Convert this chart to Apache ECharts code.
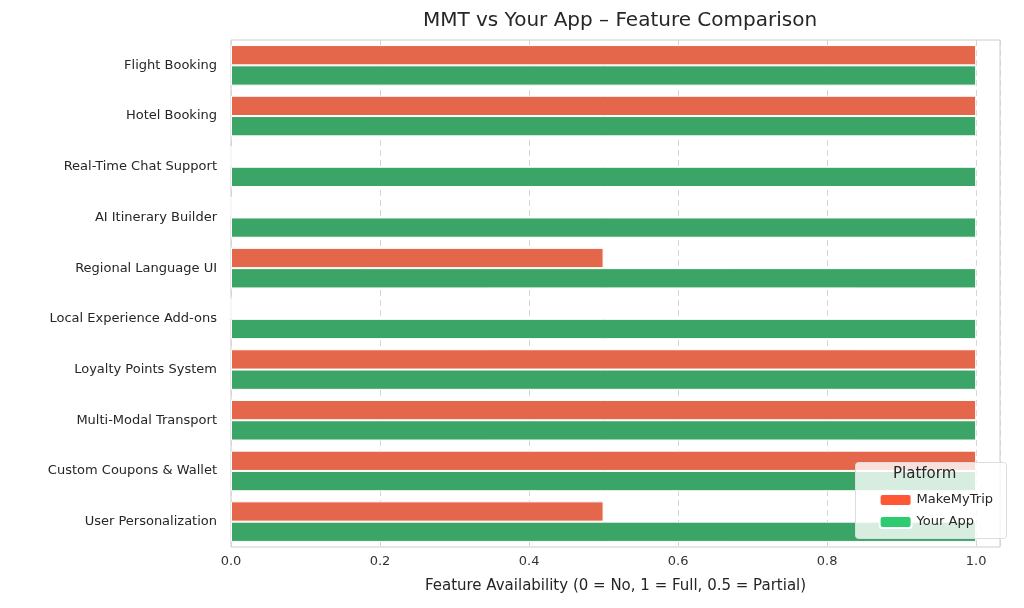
<!DOCTYPE html>
<html style="height: 100%">
<head>
 <meta charset="utf-8">
 <title>MMT vs Your App</title>
 <script src="https://cdn.jsdelivr.net/npm/echarts@6/dist/echarts.min.js"></script>
</head>
<body style="height: 100%; margin: 0; background: #fff">
 <div id="container" style="width: 1024px; height: 608px"></div>
 <script type="text/javascript">
    var features = ['Flight Booking', 'Hotel Booking', 'Real-Time Chat Support', 'AI Itinerary Builder',
        'Regional Language UI', 'Local Experience Add-ons', 'Loyalty Points System',
        'Multi-Modal Transport', 'Custom Coupons & Wallet', 'User Personalization'];
    var mmtValues = [1, 1, 0, 0, 0.5, 0, 1, 1, 1, 0.5];
    var appValues = [1, 1, 1, 1, 1, 1, 1, 1, 1, 1];
    var xTicks = [0, 0.2, 0.4, 0.6, 0.8, 1.0];

    var font = 'DejaVu Sans';
    var myChart = echarts.init(document.getElementById('container'));
    myChart.setOption({
        animation: false,
        backgroundColor: '#fff',
        textStyle: { fontFamily: font },
        title: {
            text: 'MMT vs Your App \u2013 Feature Comparison',
            left: 615, top: 6, textAlign: 'center',
            textStyle: { fontSize: 20, fontWeight: 'normal', color: '#262626', fontFamily: font }
        },
        grid: { left: 231, right: 24, top: 40, bottom: 61, show: true, borderColor: '#cccccc', borderWidth: 1 },
        xAxis: {
            type: 'value', min: 0, max: 1.032, interval: 0.2,
            name: 'Feature Availability (0 = No, 1 = Full, 0.5 = Partial)',
            nameLocation: 'middle', nameGap: 32,
            nameTextStyle: { fontSize: 15, color: '#262626', fontFamily: font },
            axisLine: { show: false }, axisTick: { show: false },
            axisLabel: {
                fontSize: 13, color: '#333', showMaxLabel: false,
                formatter: function (v) { return xTicks.indexOf(Math.round(v * 10) / 10) >= 0 ? v.toFixed(1) : ''; }
            },
            splitLine: { show: true, lineStyle: { type: [6, 4], color: '#d5d5d5' } }
        },
        yAxis: {
            type: 'category', data: features, inverse: true,
            axisLine: { show: false }, axisTick: { show: false },
            axisLabel: { fontSize: 13, color: '#262626', margin: 14 }
        },
        legend: {
            right: 26, top: 488, orient: 'vertical', itemWidth: 32, itemHeight: 12, itemGap: 8,
            textStyle: { fontSize: 13, color: '#262626' },
            data: [
                { name: 'MakeMyTrip', itemStyle: { color: '#ff5733' } },
                { name: 'Your App', itemStyle: { color: '#2ecc71' } }
            ]
        },
        graphic: [
            { type: 'rect', left: 855, top: 462, z: 100, shape: { width: 151, height: 76, r: 3 },
              style: { fill: 'rgba(255,255,255,0.8)', stroke: '#dddddd', lineWidth: 1 } },
            { type: 'text', left: 893, top: 467, z: 101,
              style: { text: 'Platform', fontSize: 15, fill: '#262626', fontFamily: font } }
        ],
        series: [
            { name: 'MakeMyTrip', type: 'bar', data: mmtValues, barGap: '0%', barCategoryGap: '20%',
              itemStyle: { color: '#e4674b', borderColor: '#fff', borderWidth: 1 } },
            { name: 'Your App', type: 'bar', data: appValues,
              itemStyle: { color: '#3aa566', borderColor: '#fff', borderWidth: 1 } }
        ]
    });
    // legend above the box
    myChart.setOption({ legend: { z: 110 } });
</script>
</body>
</html>
